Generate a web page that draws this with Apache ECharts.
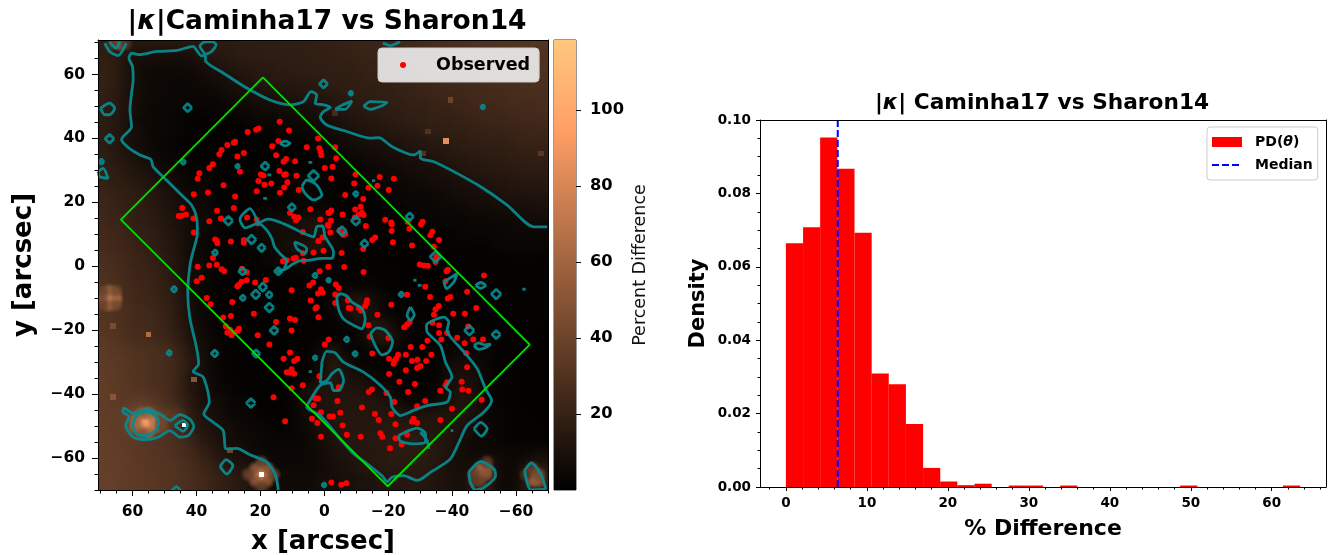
<!DOCTYPE html>
<html><head><meta charset="utf-8">
<style>html,body{margin:0;padding:0;background:#fff}#c{width:1333px;height:555px}</style>
<script src="https://cdn.jsdelivr.net/npm/echarts@6/dist/echarts.min.js"></script>
</head><body><div id="c"></div>
<script>
// ---------- map panel data (arcsec, x runs from +70 on the left to -70 on the right)
const mapMajorTicks=[60,40,20,0,-20,-40,-60];
const mapMinorTicks=[70,65,55,50,45,35,30,25,15,10,5,-5,-10,-15,-25,-30,-35,-45,-50,-55,-65,-70];
const colorbarTicks=[20,40,60,80,100];
const colorMax=118.5;
const cellXs=[68,64,60,56,52,48,44,40,36,32,28,24,20,16,12,8,4,0,-4,-8,-12,-16,-20,-24,-28,-32,-36,-40,-44,-48,-52,-56,-60,-64,-68];
const cellYs=[68,64,60,56,52,48,44,40,36,32,28,24,20,16,12,8,4,0,-4,-8,-12,-16,-20,-24,-28,-32,-36,-40,-44,-48,-52,-56,-60,-64,-68];
const percentRows=[
[17,16,15,14,14,14,14,14,15,16,16,17,17,17,18,18,18,19,19,20,21,22,22,23,24,25,26,27,28,29,29,30,30,31,31],
[18,16,12,9,9,8,8,9,12,14,15,16,16,17,17,17,18,18,19,19,20,21,21,22,23,24,25,26,27,27,28,29,29,30,30],
[19,17,11,7,6,6,6,6,8,10,13,14,15,15,16,16,17,17,18,18,19,20,20,21,22,23,24,25,26,26,27,28,28,29,29],
[20,17,11,7,5,5,4,5,6,7,9,11,13,14,15,15,15,16,17,17,18,19,19,20,21,22,23,24,24,25,26,27,27,28,28],
[19,16,11,7,5,5,4,4,4,5,7,8,10,10,11,12,13,14,15,16,17,17,18,19,20,21,22,23,23,24,25,25,26,27,27],
[18,15,11,7,5,4,4,3,3,3,4,5,6,7,8,8,9,10,12,14,15,16,17,18,19,19,20,21,22,23,23,24,25,25,26],
[17,14,10,6,4,4,3,2,2,2,2,3,4,4,5,5,6,8,9,11,13,14,15,16,17,18,19,19,20,21,22,22,23,24,24],
[17,14,10,7,5,4,3,2,2,1,1,1,2,2,3,3,3,5,7,9,10,11,13,14,15,16,17,18,18,19,20,20,21,22,22],
[17,14,10,7,5,3,2,1,2,1,1,1,1,1,1,1,2,3,4,6,7,8,9,10,12,13,14,15,16,17,18,18,19,20,20],
[18,15,12,9,6,4,3,2,2,1,1,1,1,1,0,0,1,2,3,4,5,6,7,8,9,10,12,13,14,15,16,16,17,18,18],
[19,17,14,12,9,6,4,2,3,1,1,1,1,2,1,1,2,2,2,3,3,4,5,6,7,8,9,10,12,13,14,15,15,16,16],
[20,18,16,14,11,9,6,3,4,2,1,1,1,2,2,2,4,3,2,2,3,3,4,4,5,6,7,8,9,10,11,12,13,14,14],
[22,20,18,16,14,11,8,5,5,2,1,1,1,2,2,3,3,3,2,2,2,2,3,3,4,4,5,6,7,8,9,10,11,11,11],
[23,21,19,17,15,12,9,6,6,3,1,1,2,3,3,3,3,4,3,2,2,2,2,2,3,3,4,4,5,6,6,7,8,8,9],
[24,22,20,18,16,13,10,6,6,3,2,2,3,7,8,9,10,12,5,3,2,2,2,2,2,2,3,3,3,4,4,5,5,6,6],
[25,23,21,19,17,14,11,6,5,3,2,3,4,6,7,7,8,11,6,3,2,2,1,1,1,2,2,2,3,3,3,4,4,4,4],
[26,24,22,20,18,15,11,6,4,2,2,3,3,4,7,9,10,12,5,3,2,1,1,1,1,1,2,2,2,2,2,3,3,3,3],
[28,26,23,21,19,16,12,6,4,2,2,2,2,3,4,5,5,4,3,2,2,1,1,1,1,1,1,1,2,2,2,2,2,2,2],
[29,27,24,22,20,17,12,7,4,2,1,1,2,2,2,2,3,3,3,2,2,2,2,1,1,1,1,1,1,2,2,2,2,2,2],
[30,28,25,23,21,18,13,7,4,2,1,1,1,1,1,1,1,2,2,3,3,3,2,1,1,1,1,1,1,2,2,2,2,2,2],
[31,28,26,23,22,19,14,7,4,2,1,1,1,1,1,1,1,2,4,9,12,8,3,2,1,1,1,2,1,1,1,1,2,2,2],
[31,29,27,25,23,20,15,8,4,2,1,1,1,1,1,1,1,2,3,8,13,10,3,2,1,1,1,2,2,1,1,1,1,1,2],
[32,30,27,25,24,21,16,9,5,2,1,1,1,1,1,1,1,2,2,3,6,12,12,4,2,2,2,2,3,2,1,1,1,1,1],
[33,31,28,26,24,22,18,10,6,3,1,1,1,1,1,1,1,2,2,2,3,11,14,8,2,1,2,2,3,4,3,2,1,1,1],
[35,33,31,29,28,26,21,13,7,3,2,1,1,1,0,1,1,5,12,4,2,3,5,3,2,1,1,3,4,4,3,2,1,1,1],
[35,34,32,30,28,26,22,14,8,3,2,1,1,0,0,1,1,6,14,9,3,2,2,1,1,1,2,6,8,6,3,1,1,1,1],
[36,34,32,30,28,26,22,12,8,4,2,2,1,1,0,1,1,7,15,10,9,5,3,2,1,1,2,7,10,8,3,2,1,1,1],
[36,34,33,31,29,27,21,13,8,5,3,2,2,1,1,2,9,11,12,12,11,10,6,3,2,2,3,8,12,9,3,2,1,1,1],
[36,34,34,36,33,28,23,14,9,7,4,3,2,1,1,3,9,11,12,13,13,12,11,8,4,4,6,9,12,10,4,2,1,1,1],
[36,35,36,50,44,36,32,16,11,8,5,4,3,2,1,3,7,10,12,13,13,13,13,13,11,11,12,12,11,9,4,3,2,1,1],
[37,35,36,46,42,33,25,18,12,9,7,5,4,3,2,3,5,9,12,14,14,14,14,15,15,13,12,12,10,8,4,3,2,1,1],
[37,36,34,33,31,29,27,22,14,11,8,6,5,3,3,3,4,7,11,13,14,14,15,16,16,15,13,12,8,5,4,3,2,2,2],
[37,36,35,33,32,30,28,24,19,13,10,8,6,4,4,4,5,6,9,12,13,14,15,16,16,16,14,11,7,6,6,5,4,5,7],
[37,37,35,34,32,31,29,26,22,18,12,12,8,6,5,5,5,6,8,10,12,13,15,15,15,15,13,9,7,10,14,6,5,11,14],
[37,37,35,34,33,31,29,27,24,20,17,14,10,7,6,6,6,7,8,9,10,11,12,13,14,14,12,10,8,14,16,6,5,14,20]];
// bright extended sources: [x, y, percent]
const starGlowPixels=[
[54,-48,105],[56,-48,95],[54,-50,100],[56,-50,85],[52,-48,70],[52,-50,70],[58,-48,60],[58,-50,60],[54,-46,60],[56,-46,55],[54,-52,60],[56,-52,50],[50,-48,42],[50,-50,42],
[19,-65,95],[17,-65,75],[21,-65,75],[19,-63,75],[19,-67,70],[17,-63,50],[21,-63,50],[17,-67,50],[21,-67,50],[15,-65,38],[23,-65,38],[19,-61,38],[19,-69,35],
[66,-10,90],[64,-10,70],[68,-10,50],[66,-8,60],[66,-12,60],[64,-8,45],[68,-8,40],[64,-12,45],[68,-12,40],
[-49,-63,60],[-51,-63,55],[-49,-65,55],[-47,-65,40],[-51,-65,50],[-49,-67,40],[-47,-67,35],[-51,-61,35],
[-65,-65,55],[-67,-67,50],[-65,-67,55],[-63,-65,30],[-65,-63,35],[-67,-65,45],
[63,69,60],[65,69,35],[61,69,30]];
// isolated single pixels: [x, y, percent]
const singlePixels=[
[54,-21.4,65],[-38.3,38.8,85],[-39.6,51.6,40],[-32.7,41.8,30],[-31.3,35,30],[-67.6,35,33],[-3.9,47.5,25],[65,-40.9,50],[39.9,-35.4,50],[65,-18.7,45],[28.7,-57.5,40]];
// saturated pixels, drawn white
const whitePixels=[[19,-65],[43,-49.5]];
const observedPoints=[
[13.3,44.8],[10.4,42.1],[19.8,42.7],[20.6,42.3],[23.2,41.6],[13.7,38.8],[1.4,39.6],[15.6,37.2],[4.9,36.9],[1,36.6],[.6,35.5],[.4,34.4],[27.1,38.6],[27.5,38.3],[29.5,37.6],[31.3,36],[32,34.7],[24.4,35.1],[26.4,34],[14.4,34.4],[11.3,33.2],[12.1,32.4],[8.5,32.5],[34,31.6],[35.1,30.4],[25.6,29.3],[-.7,30.4],[38.2,28.8],[38.7,27.1],[13.4,29.5],[11.9,28.3],[11.4,28.5],[19.1,28.4],[18.3,28.1],[8.1,28],[19.9,26.4],[10.9,26],[15.9,25.6],[18,25.2],[30.7,25.1],[11.9,24.4],[13.2,22.7],[20.4,23.2],[7.4,23.6],[35.5,22.8],[39.9,22.3],[27.1,21.6],[43.5,18],[42.3,16],[43.7,15.6],[44.6,15.5],[40,14.7],[27.5,18],[32.7,17.1],[31.5,14.7],[35.1,13.9],[23.4,15],[20.4,14.3],[3.8,17.6],[10.1,16.4],[8.8,15.3],[7.5,15],[8.2,14.2],[-1.8,16.5],[.7,14.4],[-1.6,12.7],[20.1,13.2],[33.3,8.2],[32.8,7.8],[32.6,7],[28.4,7.6],[24.4,8],[24.4,7.2],[6.1,10.5],[0,8.8],[1.3,7.7],[39.9,10.4],[2.8,4.1],[6.1,3.9],[8.3,2.5],[-.3,4.7],[34,2.4],[35.1,.1],[32.8,.3],[38.7,-.3],[12.3,1.4],[11.1,1.7],[5.9,1.6],[25,-.9],[9,2.3],
[-3.9,36.9],[-4.2,33.5],[-3.1,30.8],[-2.7,27.2],[-10.2,28.4],[-9.8,25.6],[-17.7,27.6],[-22.1,27.1],[-17,24.9],[-14.2,24.3],[-20.5,23.6],[-7,22],[-12.6,20.8],[-11.8,18.4],[-10.1,17.5],[-2.7,17.2],[-2.1,16.4],[-6.2,16],[-12.2,16.5],[-11.2,16],[-12.7,15.8],[-10,15],[-2.6,14],[-1.8,12.4],[-19.4,14.3],[-21.3,13.5],[-21.4,12.9],[-13.4,12.4],[-31,13.7],[-30.5,12.9],[-26.4,13.7],[-26.9,11.5],[-2.4,10.4],[-5.3,11.1],[-6,10.3],[-6.5,9.6],[-7,10],[-21.4,10.8],[-34,10.6],[-33.4,9.5],[-36.1,8],[-16.3,8.8],[-15.4,8],[-21.8,7.3],[-12.6,5.2],[-27.7,6.3],[-34.5,5.9],[-35.2,2.8],[-35,1.2],[-5.9,4],[-1.8,-.3],[-6.7,-.4],[-30.1,.4],[-31.4,.1],[-32.6,0],[-38.8,-1.2],
[31.3,-1.1],[30.5,-1.7],[39,-4.8],[37.5,-3.7],[23.5,-2],[25.1,-5],[25.9,-5.9],[26.4,-6.4],[23.5,-4.5],[20.9,-5.2],[17.6,-4.4],[.9,-1.7],[9.6,-7.6],[4.1,-6.1],[2.9,-5.2],[.5,-7.3],[1.4,-8.6],[0,-8.4],[35.9,-10],[28,-11.3],[34.7,-12],[3.7,-10.8],[1.8,-12.9],[2.2,-13.3],[21.3,-14.9],[30.8,-16.1],[28.4,-15.6],[1.3,-16],[10.1,-16.4],[8.5,-16.9],[14.4,-17.5],[30,-18.8],[28.7,-19.9],[25.9,-19.6],[26.3,-20.3],[27.7,-20.8],[28.2,-21.6],[29.5,-20.8],[9.6,-20.1],[20.1,-21.6],[-1.9,-22.9],[-.7,-24.5],[16.5,-24.5],[10.1,-27],[7.8,-28.9],[8.8,-29.6],[12.1,-28.9],[9.6,-32.2],[11.1,-33.1],[10.1,-33.3],[8.8,-33.6],[1,-34.4],[9.6,-38.1],[6.1,-37.2],[15.2,-40.9],[2.4,-41.1],[1.4,-41.3],[2.8,-43.4],[.5,-45.6],[3.3,-47.6],[1.6,-48.9],[11.6,-48.4],[.5,-53.2],
[-12.7,-1.9],[-4.1,-5.8],[-5,-6.9],[-3.9,-8.9],[-3.9,-11.6],[-7.8,-10.7],[-8.1,-13.1],[-8.6,-13.3],[-13.8,-10.7],[-13.6,-11.6],[-13.2,-12.5],[-11.2,-13.1],[-11.9,-13.9],[-21.3,-12.1],[-17,-15.2],[-26.2,-9],[-31.8,-6.5],[-33.3,-9.7],[-39.6,-9.7],[-38.8,-10.2],[-38.1,-4.8],[-38.4,-1.7],[-50,-3],[-44.8,-8.1],[-36,-12.5],[-35,-13.5],[-34.5,-15.2],[-40.5,-14.9],[-44.1,-14.9],[-47.6,-13.1],[-27,-17.5],[-26.2,-18.3],[-25.3,-19.1],[-14.2,-18.5],[-34,-17.7],[-36.1,-18.5],[-36.1,-20.9],[-38.6,-20.9],[-45.1,-18.9],[-14.6,-22.1],[-20.4,-22.5],[-36.8,-22.9],[-41.7,-22.4],[-46.7,-22.9],[-49.7,-22.9],[-44,-24.1],[-32.5,-23.3],[-27.3,-25.3],[-30.9,-25.3],[-15.4,-27.3],[-23.4,-27.7],[-25.8,-27.7],[-33.7,-27.7],[-44.5,-27.2],[-20.6,-28.9],[-22.8,-28.9],[-22.2,-29.7],[-22,-30.5],[-27.7,-29.6],[-29.4,-29.2],[-32.1,-29.6],[-30.3,-31.2],[-29.3,-31.8],[-44.8,-31.6],[-25.8,-32.5],[-20.6,-33.7],[-23.8,-36.1],[-38.6,-36.2],[-38.1,-37.2],[-28.6,-36.8],[-43.1,-36.1],[-15.3,-38.5],[-14.3,-39.3],[-26.5,-39.3],[-36.5,-38.9],[-43.3,-38.5],[-45.2,-38.9],[-19.8,-39.6],[-5,-37.8],[-4.6,-42.1],[-49.3,-41.7],[-22.2,-42.4],[-31.8,-42.1],[-12.2,-44.1],[-40.1,-44.5],[-29.3,-43.7],[-5.5,-45.7],[-16.2,-46.1],[-21.3,-46.1],[-2.2,-46.9],[-3.2,-46.9],[-17.4,-48],[-28.2,-47.6],[-27.7,-48.5],[-29.3,-48.9],[-36.5,-48],[-22.6,-49.3],[-6.2,-49.7],[-17.9,-52.1],[-18.5,-53.2],[-7.5,-52.6],[-11.8,-53.2],[-22.6,-53.7],[-26.2,-52.6],[-24.5,-55.6],[-20.9,-56.8],[-2.7,-67.4],[-5.8,-68.1],[-7.4,-67.7]];
const footprint=[[18.5,58.6],[62.5,14.4],[-20.2,-68.6],[-64.2,-24.5],[18.5,58.6]];
const contourPaths=[
[[13.7,-70],[14.7,-64.8],[17.3,-61.1],[22.5,-58.8],[26.6,-56.8],[29.9,-57],[30.8,-51.3],[33.9,-48.7],[36.8,-46.1],[35.1,-42.4],[37,-34.6],[40.1,-32.9],[38.4,-30.5],[39.2,-24.8],[41.1,-16.5],[41.8,-8.1],[41.1,.2],[40.3,3.8],[38.8,10.1],[39,14.7],[40.6,18.9],[44.2,22.5],[48.9,27.2],[52.5,30.8],[53.2,33.1],[56.6,34.5],[60,36.6],[62.3,39.2],[61.8,40.2],[59.2,43.3],[59.7,48.5],[59.2,53.7],[58.7,57.9],[58.9,62],[60,64.6],[59.2,66.2],[56.6,65.7],[51.5,66.7],[45.2,67],[40.1,68.3],[38.8,66.7],[37.5,65.3],[36.4,65.7],[34.4,66.7],[33,68.8],[34.4,69.8],[37,69.5],[38,68.3],[36.4,65.7],[36.2,63.6],[30.8,60],[23.5,55.3],[16.3,51.6],[10,50.1],[5.9,51.1],[3.6,54.2],[1.8,53.2],[2.3,50.6],[-.3,50.1],[-2.4,49.3],[-.3,48],[.7,46.2],[-1.3,43.8],[-7.5,41.8],[-14.8,39.7],[-17.4,39.9],[-21.5,37.1],[-28.2,34.5],[-30.3,35.8],[-30.3,33.5],[-34.5,32.4],[-40.7,29.3],[-49,24.6],[-57.2,18.9],[-65.5,12.1],[-69.6,12.1]],
[[.2,-30],[-1.3,-26.6],[-3.9,-27.1],[-6.5,-30],[-12.7,-33.1],[-17.9,-37.2],[-21,-40.9],[-21.5,-44],[-24.1,-46.6],[-28.2,-45],[-32.4,-43.5],[-38.6,-42.4],[-39.6,-39.3],[-38.1,-37.8],[-40.1,-34.6],[-38.1,-30],[-36.5,-24.8],[-32.4,-20.6],[-32.2,-18.5],[-37.6,-16],[-39.1,-17.5],[-38.6,-20.1],[-40.1,-22.7],[-43.8,-26.8],[-47.9,-32],[-50.5,-38.3],[-52.4,-41.9],[-50,-45.5],[-44.8,-49.7],[-42.7,-53.9],[-39.6,-60.1],[-33.4,-64.3],[-29.3,-66.8],[-25.1,-65.3],[-21.5,-65.8],[-20,-67.2],[-18.4,-65.3],[-13.8,-61.6],[-9.6,-58.5],[-5.5,-53.9],[.7,-46.6],[4.9,-44],[3.3,-40.9],[.7,-37.2],[-2.4,-36.4],[-3.4,-38.8],[-5,-38.8],[-6.5,-35.7],[-5,-32.2],[-2.9,-33.6],[-1.3,-35.7],[.7,-36.4],[.2,-30]],
[[19.9,13.2],[16.8,14.5],[11.6,12.9],[5.9,10.1],[2.8,9],[1.8,12.1],[0,12.4],[-.8,9],[-3.4,4.3],[-2.9,2.3],[.2,2.3],[4.9,1.7],[6.4,1.7],[9,.7],[11.6,-1.1],[14.2,-1.9],[12.1,-1.1],[11.1,1.5],[13.2,3.8],[14.9,5.9],[15.7,8.5],[17.3,11.1],[19.9,13.2],[24,11.8],[25.6,14.5],[22.5,17.8],[19.9,13.2]],
[[8.7,7.5],[4.9,5.4],[5.4,3.8],[8,5.4],[8.7,7.5]],
[[-4.4,-9.7],[-5.5,-8.7],[-7.5,-9.4],[-9.1,-11.3],[-12.2,-13.3],[-13.2,-16.5],[-12.2,-19.6],[-9.6,-18.5],[-6.5,-16.5],[-4.9,-13.3],[-4.4,-9.7]],
[[-14.8,-21.1],[-16.9,-19.3],[-19.4,-20.1],[-21.7,-23.7],[-20.5,-26.8],[-18.4,-27.7],[-16.3,-24.8],[-14.8,-21.1]],
[[-27.2,-12.8],[-28.4,-15.2],[-27.2,-17],[-26.2,-15.4],[-27.2,-12.8]],
[[-37.6,-5],[-41.7,-2.4],[-40.7,-5],[-38.4,-7.1],[-37.6,-5]],
[[-47.4,-6.1],[-49,-5.2],[-50.5,-6.1],[-49,-7],[-47.4,-6.1]],
[[-46.9,-24.8],[-48.4,-24],[-50,-24.6],[-52.1,-24.4],[-50.5,-25.5],[-48.4,-26],[-46.9,-24.8]],
[[-46.9,-50.7],[-49,-48.7],[-51,-50.7],[-49.2,-53],[-46.9,-50.7]],
[[-45.3,-64.2],[-49,-60.9],[-53.1,-63.2],[-53.6,-65.3],[-50,-69],[-47.4,-69.7],[-45.8,-67.4],[-45.3,-64.2]],
[[-62.6,-63.7],[-64.7,-61.3],[-67.6,-64.8],[-69.1,-69.4],[-64.5,-69.7],[-62.6,-63.7]],
[[-23.6,-52.8],[-26.7,-51.3],[-29.3,-50.5],[-31.9,-52.3],[-31.9,-54.9],[-28.2,-55.4],[-24.1,-54.6],[-23.6,-52.8]],
[[-30.3,-51.8],[-32.4,-54.4],[-32.9,-57]],
[[62,-45.5],[61.5,-44.3],[58.7,-45.9],[54.6,-44.7],[50.4,-46.1],[47.3,-48.1],[44.2,-46.3],[41.1,-47.8],[39.9,-49.9],[41.6,-52.8],[44.2,-53.3],[47.3,-51.3],[50.9,-53.3],[54.6,-54.1],[58.7,-53.3],[61,-49.7],[60,-47.1],[62,-45.5]],
[[58.9,-49.2],[57.1,-46.1],[54,-45.5],[50.9,-48.1],[51.4,-50.8],[54.6,-52.8],[57.7,-52.3],[58.9,-49.2]],
[[45.8,-49.7],[43.2,-48.1],[41.8,-49.7],[43.2,-51.5],[45.8,-49.7]],
[[31.8,-62.5],[29.9,-60.3],[27.8,-62.2],[29.7,-64.8],[31.8,-62.5]],
[[46.8,-70],[45.2,-68.7],[44,-70]],
[[6.4,24.6],[4.9,26.7],[1.8,25.1],[.2,22],[2.8,20.5],[5.4,22.5],[6.4,24.6]],
[[67.5,69.3],[66,66.7],[63.4,65.4],[60.8,69.3]],
[[66,69.7],[64,67.8],[62.8,69.7]],
[[68.8,49],[66,50.6],[64.4,49],[66,47],[67.5,47],[68.8,49]],
[[69.6,29.3],[68,30.3],[66.5,27.2],[69,27.7],[69.6,29.3]],
[[13.2,38.1],[11.6,38.8],[10.1,38.1],[11.6,37.3],[13.2,38.1]],
[[-6,50],[-9.1,51.3],[-7,48.7],[-3.9,48.7],[-6,50]],
[[-12.7,49.6],[-14.8,51.1],[-20,50.9],[-18.4,49.8],[-14.8,48.7],[-12.7,49.6]],
[[-18.7,69.3],[-21,68.5],[-24,69.8]]];
// small closed contours, [x, y, half-width]
const smallContours=[
[41.8,49.2,1.3],[66,39.5,1.4],[43.2,32.3,.8],[68.5,32.4,.8],[-.3,56.6,1.3],[17.8,31,1.3],[26.3,31,.7],[16.5,28.3,.6],[3.8,32.2,.6],[17.8,21,.6],[9.5,18.2,1.2],[29.2,14,1.4],[22,8.2,1.4],[18.9,5.6,1.2],[33.3,4.1,.9],[2.8,28,1.7],
[-8.8,53.7,.7],[-49.7,49.4,.7],[-15.8,26.5,.5],[-10.3,22.4,.8],[-10.3,14,1.4],[-6,10.8,1.4],[-13,6.9,1.2],[-27,15.3,1.2],[-35,2.8,1.7],[-1.9,-4.5,.7],
[46,-7.3,.9],[47.5,-27.1,.8],[33.4,-27.3,1.1],[22.2,-42.7,1.4],[20.6,-27.3,1.2],[15,-20.1,1.3],[16.5,-13,1.4],[20.7,-8.9,1.4],[24.8,-1.7,1.2],[24.7,-10,.9],[16.5,-9,1],[18.5,-6.6,1.3],[2.3,-28.6,.7],[3.8,-32.9,.5],[-.5,-68.2,.7],[13.7,-1.7,1.2],[2.3,-3,.8],
[-7.5,-22.9,.8],[-10.1,-27.4,.8],[-24.4,-8.9,.8],[-28.6,-4.5,.5],[-30.1,-6.1,.6],[-40.1,-51.3,.4],[-53.8,-8.8,1.5],[-62.4,-7.3,.5],[-45.5,-20.1,1.5],[-53.8,-21.4,1.3]];

// ---------- histogram panel data
const binCenters=[1.06,3.18,5.29,7.41,9.53,11.64,13.76,15.88,18,20.11,22.23,24.35,26.46,28.58,30.7,32.81,34.93,37.05,39.17,41.28,43.4,45.52,47.63,49.75,51.87,53.98,56.1,58.22,60.34,62.45];
const binDensity=[.0664,.0708,.0952,.0867,.0693,.0309,.028,.0172,.0052,.0015,.0005,.0009,0,.0004,.0004,0,.0004,0,0,0,0,0,0,.0004,0,0,0,0,0,.0004];
const medianDifference=6.4;
const histXMajor=[0,10,20,30,40,50,60];
const histXMinor=[-2,2,4,6,8,12,14,16,18,22,24,26,28,32,34,36,38,42,44,46,48,52,54,56,58,62,64,66];
const histYMajor=[0,.02,.04,.06,.08,.1];
const histYMinor=[.005,.01,.015,.025,.03,.035,.045,.05,.055,.065,.07,.075,.085,.09,.095];

const FONT='"DejaVu Sans"';
const teal='#08898d';
// readings were taken with a slightly different plate scale than the tick marks: bring them onto the axes
const onAxes=p=>[.53+1.0097*p[0],.15+1.0055*p[1]];
const copperRGB=v=>{
  const t=Math.min(1,Math.max(0,v/colorMax));
  return [Math.round(Math.min(1,1.25*t)*255),Math.round(.7812*t*255),Math.round(.4975*t*255)];
};
function rgba(v,a){
  if(v>=130) return 'rgba(255,255,255,'+a+')';
  const c=copperRGB(v);return 'rgba('+c[0]+','+c[1]+','+c[2]+','+a+')';
}
function cellRect(api,k){
  const x=api.value(0),y=api.value(1),s=api.value(3)*k;
  const a=api.coord([x+s/2,y+s/2]),b=api.coord([x-s/2,y-s/2]);
  return {x:Math.round(a[0]),y:Math.round(a[1]),width:Math.round(b[0])-Math.round(a[0]),height:Math.round(b[1])-Math.round(a[1])};
}
function cellItem(params,api){
  return {type:'rect',shape:cellRect(api,1.03),style:{fill:rgba(api.value(2),1)}};
}
function softItem(k,stops){
  return function(params,api){
    const v=api.value(2);
    return {type:'rect',shape:cellRect(api,k),style:{fill:{type:'radial',x:.5,y:.5,r:.5,
      colorStops:stops.map(s=>({offset:s[0],color:rgba(v,s[1])}))}}};
  };
}
const cellData=[];
percentRows.forEach((row,r)=>row.forEach((v,c)=>{const p=onAxes([cellXs[c],cellYs[r]]);cellData.push([p[0],p[1],v,4]);}));
const glowData=starGlowPixels.map(s=>{const p=onAxes(s);return [p[0],p[1],s[2],2];});
const singleData=singlePixels.map(s=>{const p=onAxes(s);return [p[0],p[1],s[2],1.7];});
const whiteData=whitePixels.map(s=>{const p=onAxes(s);return [p[0],p[1],150,1.4];});
function joinPaths(paths){const out=[];paths.forEach(p=>{p.forEach(q=>out.push(onAxes(q)));out.push(['-','-']);});return out;}
const diamondPaths=smallContours.map(c=>[[c[0]-c[2],c[1]],[c[0],c[1]+c[2]],[c[0]+c[2],c[1]],[c[0],c[1]-c[2]],[c[0]-c[2],c[1]]]);
const minus=v=>String(v).replace('-','\u2212');

function axisSet(kind,grid,opts){
  const base={gridIndex:grid,type:'value',min:opts.min,max:opts.max,inverse:!!opts.inverse,splitLine:{show:false},z:10};
  const line={show:true,onZero:false,lineStyle:{color:'#000',width:1}};
  const pos=kind==='x'?['bottom','top']:['left','right'];
  return [
    Object.assign({},base,{position:pos[0],axisLine:line,
      axisTick:{show:true,customValues:opts.major,length:opts.majorLen,lineStyle:{color:'#000',width:1}},
      axisLabel:{show:true,customValues:opts.major,formatter:opts.fmt,color:'#000',fontFamily:FONT,fontWeight:'bold',fontSize:opts.labelSize,margin:opts.labelGap},
      name:opts.name,nameLocation:'middle',nameGap:opts.nameGap,nameRotate:kind==='y'?90:0,
      nameTextStyle:{color:'#000',fontFamily:FONT,fontWeight:'bold',fontSize:opts.nameSize}}),
    Object.assign({},base,{position:pos[0],axisLine:{show:false,onZero:false},
      axisTick:{show:true,customValues:opts.minor,length:opts.minorLen,lineStyle:{color:'#000',width:1}},axisLabel:{show:false}}),
    Object.assign({},base,{position:pos[1],axisLine:line,axisTick:{show:false},axisLabel:{show:false}})
  ];
}
const mapX=axisSet('x',0,{min:-70,max:70.8,inverse:true,major:mapMajorTicks,minor:mapMinorTicks,majorLen:6,minorLen:3.5,fmt:minus,labelSize:15.5,labelGap:14,name:'x [arcsec]',nameGap:39,nameSize:26});
const mapY=axisSet('y',0,{min:-70,max:70.8,major:mapMajorTicks,minor:mapMinorTicks,majorLen:6,minorLen:3.5,fmt:minus,labelSize:15.5,labelGap:13,name:'y [arcsec]',nameGap:61,nameSize:26});
const histX=axisSet('x',2,{min:-3.2,max:66.7,major:histXMajor,minor:histXMinor,majorLen:4,minorLen:2.5,fmt:v=>String(v),labelSize:13.5,labelGap:9,name:'% Difference',nameGap:31,nameSize:22});
const histY=axisSet('y',2,{min:0,max:.1,major:histYMajor,minor:histYMinor,majorLen:4,minorLen:2.5,fmt:v=>(+v).toFixed(2),labelSize:13.5,labelGap:9,name:'Density',nameGap:51,nameSize:21});

const xAxes=[...mapX,
  {gridIndex:1,type:'category',data:[''],axisLine:{show:false},axisTick:{show:false},axisLabel:{show:false}},
  ...histX];
const yAxes=[...mapY,
  {gridIndex:1,type:'value',min:0,max:colorMax,position:'right',z:10,splitLine:{show:false},
   axisLine:{show:false},
   axisTick:{show:true,customValues:colorbarTicks,length:5,lineStyle:{color:'#000'}},
   axisLabel:{customValues:colorbarTicks,color:'#000',fontFamily:FONT,fontWeight:'bold',fontSize:16.3,margin:14},
   name:'Percent Difference',nameLocation:'middle',nameRotate:90,nameGap:55,
   nameTextStyle:{color:'#111',fontFamily:FONT,fontSize:17.5}},
  ...histY];

const titleRich=size=>({
  n:{fontFamily:FONT,fontWeight:'bold',fontSize:size,color:'#000'},
  i:{fontFamily:FONT,fontWeight:'bold',fontStyle:'italic',fontSize:size,color:'#000'}
});

const option={
  animation:false,
  backgroundColor:'#fff',
  title:[
    {text:'{n||}{i|\u03ba}{n||Caminha17 vs Sharon14}',left:322,top:4,textAlign:'center',textStyle:{rich:titleRich(26.5)}},
    {text:'{n||}{i|\u03ba}{n|| Caminha17 vs Sharon14}',left:1037,top:87,textAlign:'center',textStyle:{rich:titleRich(21.7)}}
  ],
  legend:[
    {data:['Observed'],left:378,top:48,padding:[8,9,8,22],itemWidth:6,itemHeight:6,icon:'circle',
     backgroundColor:'rgba(240,240,240,.9)',borderColor:'#ccc',borderWidth:1,borderRadius:4,
     textStyle:{fontFamily:FONT,fontWeight:'bold',fontSize:17.5,color:'#000',padding:[0,0,0,25]}},
    {data:[{name:'PD(\u03b8)',icon:'rect'},{name:'Median',itemStyle:{opacity:0}}],left:1207,top:127,orient:'vertical',padding:[8,5,8,4],itemWidth:30,itemHeight:10,itemGap:9,
     backgroundColor:'#fff',borderColor:'#ccc',borderWidth:1,borderRadius:3,
     formatter:n=>n==='Median'?'{b|Median}':'{b|PD(}{i|\u03b8}{b|)}',
     textStyle:{padding:[0,0,0,8],rich:{
       b:{fontFamily:FONT,fontWeight:'bold',fontSize:14,color:'#000'},
       i:{fontFamily:FONT,fontWeight:'bold',fontStyle:'italic',fontSize:14,color:'#000'}}}}
  ],
  grid:[
    {left:98,top:40,width:450,height:450,outerBoundsMode:'none'},
    {left:554,top:40,width:22,height:450,show:true,borderColor:'#333',borderWidth:1,backgroundColor:'transparent',outerBoundsMode:'none'},
    {left:760,top:120,width:566,height:367,outerBoundsMode:'none'}
  ],
  xAxis:xAxes,
  yAxis:yAxes,
  series:[
    {type:'custom',name:'percent',xAxisIndex:0,yAxisIndex:0,data:cellData,renderItem:cellItem,silent:true,z:1,clip:true,encode:{x:0,y:1}},
    {type:'custom',name:'percent soft',xAxisIndex:0,yAxisIndex:0,data:cellData,renderItem:softItem(3.2,[[0,1],[.35,.75],[.7,.2],[1,0]]),silent:true,z:1,clip:true,encode:{x:0,y:1}},
    {type:'custom',name:'stars',xAxisIndex:0,yAxisIndex:0,data:glowData,renderItem:softItem(2.6,[[0,1],[.45,.8],[1,0]]),silent:true,z:2,clip:true,encode:{x:0,y:1}},
    {type:'custom',name:'single pixels',xAxisIndex:0,yAxisIndex:0,data:singleData,renderItem:cellItem,silent:true,z:2,clip:true,encode:{x:0,y:1}},
    {type:'custom',name:'white pixels',xAxisIndex:0,yAxisIndex:0,data:whiteData,renderItem:cellItem,silent:true,z:2,clip:true,encode:{x:0,y:1}},
    {type:'scatter',name:'Observed',xAxisIndex:0,yAxisIndex:0,data:observedPoints.map(onAxes),symbolSize:6,itemStyle:{color:'#ff0000',opacity:1},z:3,clip:true},
    {type:'line',name:'contours',xAxisIndex:0,yAxisIndex:0,data:joinPaths(contourPaths),showSymbol:false,smooth:.25,connectNulls:false,
     lineStyle:{color:teal,width:2.8,opacity:.95},z:4,clip:true,silent:true},
    {type:'line',name:'small contours',xAxisIndex:0,yAxisIndex:0,data:joinPaths(diamondPaths),showSymbol:false,connectNulls:false,
     lineStyle:{color:teal,width:2.8,opacity:.9},z:4,clip:true,silent:true},
    {type:'line',name:'footprint',xAxisIndex:0,yAxisIndex:0,data:footprint.map(onAxes),showSymbol:false,lineStyle:{color:'#00e000',width:1.8},z:5,silent:true},
    {type:'bar',name:'colorbar',xAxisIndex:3,yAxisIndex:3,data:[colorMax],barWidth:'100%',silent:true,
     itemStyle:{color:{type:'linear',x:0,y:1,x2:0,y2:0,colorStops:[
       {offset:0,color:'rgb(0,0,0)'},{offset:.8,color:'rgb(255,159,101)'},{offset:1,color:'rgb(255,199,127)'}]}}},
    {type:'bar',name:'PD(\u03b8)',xAxisIndex:4,yAxisIndex:4,data:binCenters.map((c,i)=>[c,binDensity[i]]),barWidth:17.2,itemStyle:{color:'#ff0000'},z:2,silent:true},
    {type:'line',name:'Median',xAxisIndex:4,yAxisIndex:4,data:[[medianDifference,0],[medianDifference,.1]],showSymbol:false,symbol:'none',
     lineStyle:{color:'#0000ff',width:2,type:[7,3]},itemStyle:{color:'#0000ff'},z:3,silent:true}
  ]
};
const chart=echarts.init(document.getElementById('c'),null,{renderer:'canvas'});
chart.setOption(option);
</script></body></html>
